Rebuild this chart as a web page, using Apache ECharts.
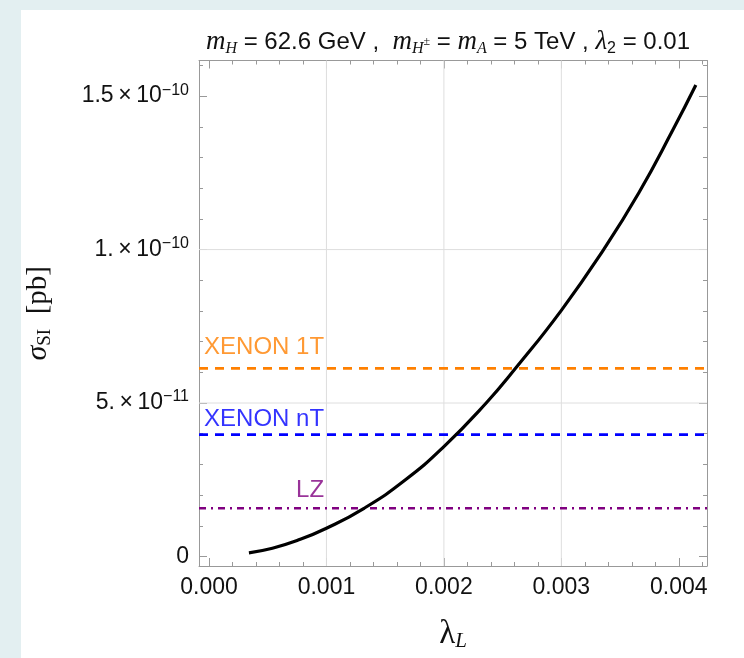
<!DOCTYPE html>
<html>
<head>
<meta charset="utf-8">
<script src="https://cdn.jsdelivr.net/npm/echarts@6/dist/echarts.min.js"></script>
<style>
  html, body { margin: 0; padding: 0; background: #e3eff1; }
  #panel { position: absolute; left: 21px; top: 10px; width: 723px; height: 648px; background: #ffffff; }
  #chart { position: absolute; left: 0; top: 0; width: 744px; height: 658px; }
</style>
</head>
<body>
<div id="panel"></div>
<div id="chart"></div>
<script>
// ---- data ----
const lambdaL = [0.34e-3, 0.54e-3, 0.75e-3, 1.00e-3, 1.32e-3, 1.67e-3, 2.00e-3, 2.36e-3, 2.61e-3, 3.00e-3, 3.36e-3, 3.66e-3, 3.95e-3, 4.145e-3];
const sigmaSI = [0.12e-11, 0.27e-11, 0.52e-11, 0.92e-11, 1.57e-11, 2.49e-11, 3.58e-11, 5.00e-11, 6.13e-11, 8.02e-11, 10.0e-11, 11.85e-11, 13.9e-11, 15.36e-11];

const boundNames  = ['XENON 1T', 'XENON nT', 'LZ'];
const boundValues = [6.13e-11, 3.97e-11, 1.57e-11];

const xTickValues = [0, 0.001, 0.002, 0.003, 0.004];
const xTickLabels = ['0.000', '0.001', '0.002', '0.003', '0.004'];
const xMinorTicks = [0.0002, 0.0004, 0.0006, 0.0008, 0.0012, 0.0014, 0.0016, 0.0018, 0.0022, 0.0024, 0.0026, 0.0028, 0.0032, 0.0034, 0.0036, 0.0038, 0.0042];

const yTickValues   = [0, 5e-11, 1e-10, 1.5e-10];
const yTickMantissa = ['0', '5.', '1.', '1.5'];
const yTickExponent = ['', '\u221211', '\u221210', '\u221210'];
const yMinorTicks = [1e-11, 2e-11, 3e-11, 4e-11, 6e-11, 7e-11, 8e-11, 9e-11, 11e-11, 12e-11, 13e-11, 14e-11, 16e-11];

const xGridValues = [0.001, 0.002, 0.003];
const yGridValues = [5e-11, 1e-10];

// ---- styling / layout ----
const xMin = -0.000085, xMax = 0.00424;
const yMin = -0.31e-11, yMax = 16.16e-11;
const frameColor = '#999999';
const gridColor = '#dedede';
const sans = '"Liberation Sans", Arial, Helvetica, sans-serif';
const serif = '"Liberation Serif", "Times New Roman", serif';
const boundColors = ['#ff8000', '#0000ff', '#800080'];
const boundDash = [[9, 7], [9, 7], [7, 5, 2, 5]];
const boundLabelAnchor = [[0.00098, 6.80e-11], [0.00098, 4.48e-11], [0.00098, 2.17e-11]];

function findIdx(arr, v, eps) {
  for (let i = 0; i < arr.length; i++) if (Math.abs(arr[i] - v) < eps) return i;
  return -1;
}

function xAxisDef(position, ticks, len, withLabels, withLine) {
  return {
    type: 'value', gridIndex: 0, position: position, min: xMin, max: xMax,
    axisLine: { show: withLine, onZero: false, lineStyle: { color: frameColor, width: 1 } },
    axisTick: { show: true, inside: true, length: len, customValues: ticks, lineStyle: { color: frameColor, width: 1 } },
    axisLabel: withLabels ? {
      show: true, customValues: xTickValues, margin: 10,
      fontFamily: sans, fontSize: 23, color: '#111',
      formatter: function (v) { const i = findIdx(xTickValues, v, 1e-9); return i >= 0 ? xTickLabels[i] : ''; }
    } : { show: false },
    splitLine: { show: false }, minorTick: { show: false }
  };
}
function yAxisDef(position, ticks, len, withLabels, withLine) {
  return {
    type: 'value', gridIndex: 0, position: position, min: yMin, max: yMax,
    axisLine: { show: withLine, onZero: false, lineStyle: { color: frameColor, width: 1 } },
    axisTick: { show: true, inside: true, length: len, customValues: ticks, lineStyle: { color: frameColor, width: 1 } },
    axisLabel: withLabels ? {
      show: true, customValues: yTickValues, margin: 10,
      formatter: function (v) {
        const i = findIdx(yTickValues, v, 1e-15);
        if (i < 0) return '';
        if (!yTickExponent[i]) return '{b|' + yTickMantissa[i] + '}';
        return '{b|' + yTickMantissa[i] + '\u2009\u00d7\u200910}{s|' + yTickExponent[i] + '}';
      },
      rich: {
        b: { fontFamily: sans, fontSize: 23, color: '#111', lineHeight: 28 },
        s: { fontFamily: sans, fontSize: 16, color: '#111', lineHeight: 16, verticalAlign: 'top' }
      }
    } : { show: false },
    splitLine: { show: false }, minorTick: { show: false }
  };
}

const chart = echarts.init(document.getElementById('chart'), null, { renderer: 'canvas' });

// grid lines and bound lines as two-point line series spanning the axis range
const gridSeries = xGridValues.map(function (v) {
  return { type: 'line', silent: true, z: 1, symbol: 'none', data: [[v, yMin], [v, yMax]],
           lineStyle: { color: gridColor, width: 1 } };
}).concat(yGridValues.map(function (v) {
  return { type: 'line', silent: true, z: 1, symbol: 'none', data: [[xMin, v], [xMax, v]],
           lineStyle: { color: gridColor, width: 1 } };
}));

const boundSeries = boundNames.map(function (name, i) {
  return {
    type: 'line', name: name, silent: true, z: 3, symbol: 'none',
    data: [[xMin, boundValues[i]], [xMax, boundValues[i]]],
    lineStyle: { color: boundColors[i], width: 2.6, type: boundDash[i] }
  };
});

const option = {
  animation: false,
  backgroundColor: 'transparent',
  grid: { left: 199, top: 60.5, width: 508, height: 505.5, containLabel: false },
  xAxis: [
    Object.assign(xAxisDef('bottom', xTickValues, 8, true, true), {
      name: '{l|\u03bb}{sub|L}', nameLocation: 'middle', nameGap: 50,
      nameTextStyle: { rich: {
        l: { fontFamily: serif, fontSize: 33, color: '#111', lineHeight: 36 },
        sub: { fontFamily: serif, fontStyle: 'italic', fontSize: 21, color: '#111', lineHeight: 20, verticalAlign: 'bottom' }
      } }
    }),
    xAxisDef('bottom', xMinorTicks, 4, false, false),
    xAxisDef('top', xTickValues, 8, false, true),
    xAxisDef('top', xMinorTicks, 4, false, false)
  ],
  yAxis: [
    Object.assign(yAxisDef('left', yTickValues, 8, true, true), {
      name: '{s|\u03c3}{sub|SI}{t|  [pb]}', nameLocation: 'middle', nameGap: 144, nameRotate: 90,
      nameTextStyle: { rich: {
        s: { fontFamily: serif, fontStyle: 'italic', fontSize: 30, color: '#111', lineHeight: 34 },
        sub: { fontFamily: serif, fontSize: 19, color: '#111', lineHeight: 20, verticalAlign: 'bottom' },
        t: { fontFamily: serif, fontSize: 29, color: '#111', lineHeight: 34 }
      } }
    }),
    yAxisDef('left', yMinorTicks, 4, false, false),
    yAxisDef('right', yTickValues, 8, false, true),
    yAxisDef('right', yMinorTicks, 4, false, false)
  ],
  graphic: [{
    type: 'text', x: 448, y: 42, silent: true,
    style: {
      text: '{mi|m}{sub|H}{t| = 62.6 GeV ,  }{mi|m}{sub|H}{sup|\u00b1}{t| = }{mi|m}{sub|A}{t| = 5 TeV , }{gr|\u03bb}{sub2|2}{t| = 0.01}',
      align: 'center', verticalAlign: 'middle',
      rich: {
        mi: { fontFamily: serif, fontStyle: 'italic', fontSize: 27, fill: '#111', lineHeight: 30 },
        gr: { fontFamily: serif, fontStyle: 'italic', fontSize: 27, fill: '#111', lineHeight: 30 },
        t: { fontFamily: sans, fontSize: 24, fill: '#111', lineHeight: 30 },
        sub: { fontFamily: serif, fontStyle: 'italic', fontSize: 16, fill: '#111', lineHeight: 15, verticalAlign: 'bottom' },
        sub2: { fontFamily: sans, fontSize: 16, fill: '#111', lineHeight: 15, verticalAlign: 'bottom' },
        sup: { fontFamily: serif, fontSize: 12, fill: '#111', lineHeight: 30, verticalAlign: 'middle' }
      }
    }
  }],
  series: gridSeries.concat(boundSeries).concat([
    {
      type: 'line', name: 'sigma', z: 5,
      data: lambdaL.map(function (x, i) { return [x, sigmaSI[i]]; }),
      smooth: 0.5, showSymbol: false, symbol: 'none',
      lineStyle: { color: '#000', width: 3.2 }
    },
    {
      type: 'scatter', name: 'labels', z: 6, silent: true,
      symbolSize: 0,
      data: boundLabelAnchor.map(function (p, i) {
        return {
          value: p,
          label: { show: true, position: 'inside', align: 'right', verticalAlign: 'middle',
                   formatter: boundNames[i], color: boundColors[i], fontFamily: sans, fontSize: 24 }
        };
      })
    }
  ])
};
chart.setOption(option);
</script>
</body>
</html>
